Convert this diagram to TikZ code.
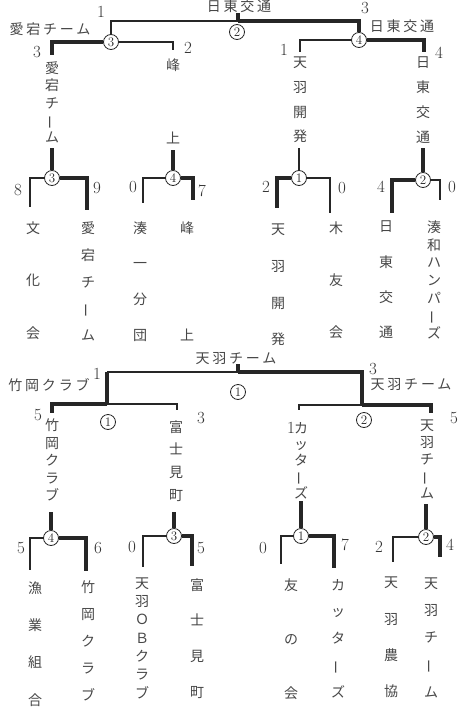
\documentclass[tikz,border=0pt]{standalone}
\usepackage{fontspec}
\usepackage{graphicx}
\newfontfamily\jp{Noto Sans CJK JP}
\newfontfamily\jpls[LetterSpace=20]{Noto Sans CJK JP}
\definecolor{linec}{gray}{0.15}
\definecolor{txtc}{gray}{0.28}
\definecolor{numc}{gray}{0.2}
\newcommand{\vbar}{\rotatebox[origin=c]{90}{ー}}
\tikzset{
  thinln/.style={line width=1.1pt, draw=linec},
  thickln/.style={line width=3.6pt, draw=linec, line join=miter},
  rnd/.style={circle, draw=linec, line width=0.8pt, fill=white, inner sep=0pt, minimum size=15pt, font=\fontsize{13}{13}\selectfont, text=linec},
  num/.style={font=\fontsize{17}{17}\selectfont, text=numc, inner sep=0pt},
  lbl/.style={font=\jpls\fontsize{14}{14}\selectfont, text=txtc, inner sep=0pt},
  vn/.style={font={\jp\fontsize{14}{#1}\selectfont}, align=center, text=txtc, inner sep=0pt},
}
\begin{document}
\begin{tikzpicture}[x=1pt,y=-1pt]
\useasboundingbox[fill=white] (0,0) rectangle (462,709);

% ================= TOP BRACKET =================
% final
\node[lbl] (tFlab) at (239,6) {日東交通};
\coordinate (tFm) at (238,21);
\coordinate (tFt) at (238,13);
\node[rnd] (tS1) at (111,42) {3};
\node[rnd] (tS2) at (359,40) {4};
\draw[thinln] (tS1.north) |- (tFm);
\draw[thickln] (tFm) -| (tS2.north);
\draw[thickln] (tFm) -- (tFt);
\node[rnd] (tFr) at (237,32) {2};
\node[num] (tn1) at (101,12) {1};
\node[num] (tn2) at (365,8) {3};
% left semi
\node[lbl] (tL1) at (50,29) {愛宕チーム};
\coordinate (tA) at (52,55);
\coordinate (tB) at (173,50);
\draw[thickln] (tS1.west) -| (tA);
\draw[thinln] (tS1.east) -| (tB);
\node[num] (tn3) at (37,52) {3};
\node[num] (tn4) at (188,48) {2};
% right semi
\node[lbl] (tL2) at (402,26) {日東交通};
\coordinate (tC) at (300,52);
\coordinate (tD) at (424,52);
\draw[thinln] (tS2.west) -| (tC);
\draw[thickln] (tS2.east) -| (tD);
\node[num] (tn5) at (284,50) {1};
\node[num] (tn6) at (439,53) {4};
% semi columns
\node[vn=17.25] (tV1) at (52,102.5) {愛\\宕\\チ\\\vbar\\ム};
\node[vn=73] (tV2) at (173,101.5) {峰\\上};
\node[vn=24.7] (tV3) at (300,100) {天\\羽\\開\\発};
\node[vn=25] (tV4) at (423,100) {日\\東\\交\\通};
% first round circles
\node[rnd] (tQ1) at (52,178) {3};
\node[rnd] (tQ2) at (173,178) {4};
\node[rnd] (tQ3) at (299,178) {1};
\node[rnd] (tQ4) at (423,180) {2};
\coordinate (tV1b) at (52,148);
\coordinate (tV2b) at (173,150);
\coordinate (tV3b) at (299,148);
\coordinate (tV4b) at (423,148);
\draw[thickln] (tV1b) -- (tQ1.north);
\draw[thickln] (tV2b) -- (tQ2.north);
\draw[thinln] (tV3b) -- (tQ3.north);
\draw[thickln] (tV4b) -- (tQ4.north);
% first round brackets
\coordinate (q1L) at (30,207);
\coordinate (q1R) at (87,210);
\draw[thinln] (tQ1.west) -| (q1L);
\draw[thickln] (tQ1.east) -| (q1R);
\coordinate (q2L) at (143,203);
\coordinate (q2R) at (193,200);
\draw[thinln] (tQ2.west) -| (q2L);
\draw[thickln] (tQ2.east) -| (q2R);
\coordinate (q3L) at (277,208);
\coordinate (q3R) at (330,213);
\draw[thickln] (tQ3.west) -| (q3L);
\draw[thinln] (tQ3.east) -| (q3R);
\coordinate (q4L) at (392,213);
\coordinate (q4R) at (440,200);
\draw[thickln] (tQ4.west) -| (q4L);
\draw[thinln] (tQ4.east) -| (q4R);
% first round scores
\node[num] (ts1) at (18,190) {8};
\node[num] (ts2) at (97,188) {9};
\node[num] (ts3) at (133,187) {0};
\node[num] (ts4) at (202,191) {7};
\node[num] (ts5) at (266,187) {2};
\node[num] (ts6) at (342,188) {0};
\node[num] (ts7) at (381,187) {4};
\node[num] (ts8) at (452,187) {0};
% first round names
\node[vn=52.5] (tT1) at (33,280.5) {文\\化\\会};
\node[vn=26.75] (tT2) at (88,281.5) {愛\\宕\\チ\\\vbar\\ム};
\node[vn=35.67] (tT3) at (140,281.5) {湊\\一\\分\\団};
\node[vn=107] (tT4) at (187,281.5) {峰\\上};
\node[vn=36.67] (tT5) at (278,285) {天\\羽\\開\\発};
\node[vn=52] (tT6) at (336,280) {木\\友\\会};
\node[vn=35.3] (tT7) at (386,280) {日\\東\\交\\通};
\node[vn=17.67] (tT8) at (434,280) {湊\\和\\ハ\\ン\\パ\\\vbar\\ズ};

% ================= BOTTOM BRACKET =================
\node[lbl] (bFlab) at (236,359) {天羽チーム};
\coordinate (bFm) at (238,372);
\coordinate (bFt) at (238,364);
\coordinate (bFl) at (107,372);
\coordinate (bJ1) at (107,404);
\coordinate (bJ2) at (362,405);
\draw[thickln] (bJ1) -- (bFl);
\draw[thinln] (bFl) -- (bFm);
\draw[thickln] (bFm) -| (bJ2);
\draw[thickln] (bFm) -- (bFt);
\node[rnd] (bFr) at (238,392) {1};
\node[num] (bn1) at (97,374) {1};
\node[num] (bn2) at (373,369) {3};
\node[lbl] (bL1) at (49,385) {竹岡クラブ};
\node[lbl] (bL2) at (411,385) {天羽チーム};
% semis
\coordinate (bA) at (52,413);
\coordinate (bB) at (177,410);
\coordinate (bC) at (299,410);
\coordinate (bD) at (431,413);
\draw[thickln] (bJ1) -| (bA);
\draw[thinln] (bJ1) -| (bB);
\draw[thinln] (bJ2) -| (bC);
\draw[thickln] (bJ2) -| (bD);
\node[rnd] (bS1) at (108,422) {1};
\node[rnd] (bS2) at (364,420) {2};
\node[num] (bn3) at (38,415) {5};
\node[num] (bn4) at (201,418) {3};
\node[num] (bn5) at (291,428) {1};
\node[num] (bn6) at (454,418) {5};
% semi columns
\node[vn=17.5] (bV1) at (52,460) {竹\\岡\\ク\\ラ\\ブ};
\node[vn=22.67] (bV2) at (176,461) {富\\士\\見\\町};
\node[vn=16.25] (bV3) at (301,460.5) {カ\\ッ\\タ\\\vbar\\ズ};
\node[vn=17] (bV4) at (427,459) {天\\羽\\チ\\\vbar\\ム};
% first round circles
\node[rnd] (bQ1) at (51,538) {4};
\node[rnd] (bQ2) at (174,536) {3};
\node[rnd] (bQ3) at (301,536) {1};
\node[rnd] (bQ4) at (426,537) {2};
\coordinate (bV1b) at (51,512);
\coordinate (bV2b) at (174,512);
\coordinate (bV3b) at (301,501);
\coordinate (bV4b) at (426,504);
\draw[thickln] (bV1b) -- (bQ1.north);
\draw[thickln] (bV2b) -- (bQ2.north);
\draw[thickln] (bV3b) -- (bQ3.north);
\draw[thickln] (bV4b) -- (bQ4.north);
% first round brackets
\coordinate (p1L) at (30,570);
\coordinate (p1R) at (86,571);
\draw[thinln] (bQ1.west) -| (p1L);
\draw[thickln] (bQ1.east) -| (p1R);
\coordinate (p2L) at (143,567);
\coordinate (p2R) at (192,566);
\draw[thinln] (bQ2.west) -| (p2L);
\draw[thickln] (bQ2.east) -| (p2R);
\coordinate (p3L) at (281,564);
\coordinate (p3R) at (334,568);
\draw[thinln] (bQ3.west) -| (p3L);
\draw[thickln] (bQ3.east) -| (p3R);
\coordinate (p4L) at (393,562);
\coordinate (p4R) at (440,557);
\draw[thinln] (bQ4.west) -| (p4L);
\draw[thickln] (bQ4.east) -| (p4R);
% scores
\node[num] (bs1) at (21,548) {5};
\node[num] (bs2) at (98,548) {6};
\node[num] (bs3) at (132,547) {0};
\node[num] (bs4) at (201,548) {5};
\node[num] (bs5) at (263,548) {0};
\node[num] (bs6) at (345,545) {7};
\node[num] (bs7) at (379,547) {2};
\node[num] (bs8) at (450,545) {4};
% names
\node[vn=37.33] (bT1) at (35,644) {漁\\業\\組\\合};
\node[vn=27] (bT2) at (88,641) {竹\\岡\\ク\\ラ\\ブ};
\node[vn=18.33] (bT3) at (142,638) {天\\羽\\Ｏ\\Ｂ\\ク\\ラ\\ブ};
\node[vn=35.67] (bT4) at (197,638.5) {富\\士\\見\\町};
\node[vn=54] (bT5) at (291,639) {友\\の\\会};
\node[vn=26.75] (bT6) at (338,638.5) {カ\\ッ\\タ\\\vbar\\ズ};
\node[vn=36.33] (bT7) at (391,637.5) {天\\羽\\農\\協};
\node[vn=27.25] (bT8) at (431,637.5) {天\\羽\\チ\\\vbar\\ム};
\end{tikzpicture}
\end{document}
